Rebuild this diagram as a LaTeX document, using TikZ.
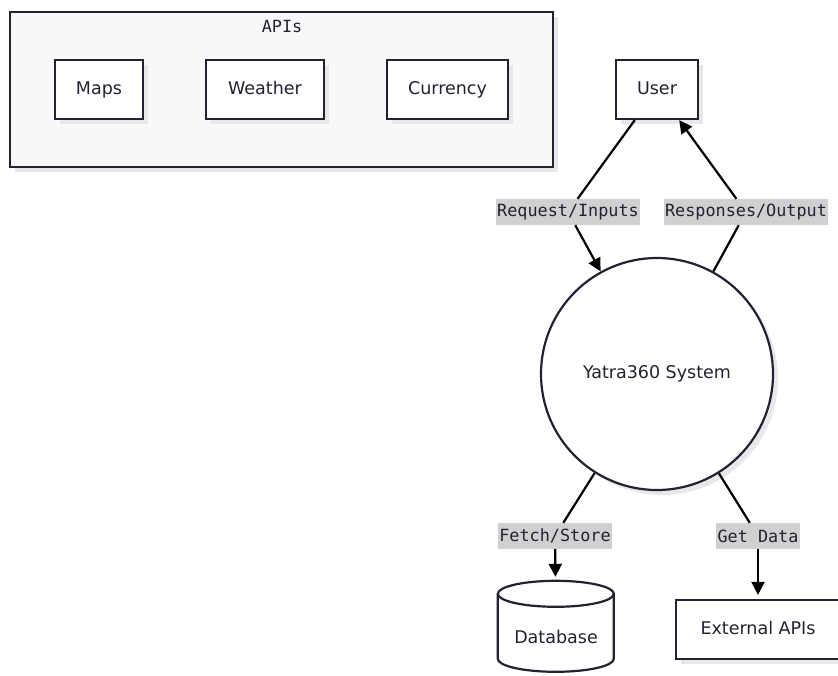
\documentclass[tikz,border=0pt]{standalone}
\usepackage{xcolor}
\usepackage{fontspec}
\setmainfont{DejaVu Sans}
\newfontfamily\labelfont{DejaVu Sans Mono}
\usepackage{tikz}
\usetikzlibrary{arrows.meta, positioning, shapes, shadows}

\definecolor{inkc}{RGB}{34,34,50}
\definecolor{groupfill}{RGB}{248,248,251}
\definecolor{labelfill}{RGB}{208,208,208}
\definecolor{shadowc}{RGB}{232,232,234}

\begin{document}
\begin{tikzpicture}[x=1pt, y=-1pt,
  shade box/.style={drop shadow={shadow xshift=5pt, shadow yshift=-5pt, fill=shadowc, opacity=1}},
  box/.style={draw=inkc, line width=2.2pt, fill=white, inner sep=0pt, minimum height=59pt,
    text=inkc, font=\fontsize{17.5}{20}\selectfont, text height=12.5pt, text depth=3.5pt, shade box},
  edgelabel/.style={fill=labelfill, inner sep=1.5pt, minimum height=26pt, text=inkc,
    font=\labelfont\fontsize{16.8}{20}\selectfont},
  flow/.style={line width=2.2pt, black},
  tip/.style={-{Triangle[length=13pt, width=13pt]}}]
\useasboundingbox (0,0) rectangle (838,675);

% API group
\node[draw=inkc, line width=2.2pt, fill=groupfill, minimum width=543pt, minimum height=155pt,
  shade box] (apis) at (281.5,89.5) {};
\node[text=inkc, font=\labelfont\fontsize{16.8}{20}\selectfont] (apistitle) at (282,26) {APIs};
\node[box, minimum width=88pt] (maps) at (99,89.5) {Maps};
\node[box, minimum width=118pt] (weather) at (265,89.5) {Weather};
\node[box, minimum width=121pt] (currency) at (447.5,89.5) {Currency};

% main flow
\node[box, minimum width=82pt] (user) at (657,89.5) {User};
\node[box, circle, minimum size=232pt] (sys) at (657,374) {Yatra360 System};
\node[box, minimum width=164pt] (ext) at (758,629.5) {External APIs};
\node[inner sep=0pt, minimum width=116pt, minimum height=91pt] (db) at (556,626.5) {};

% cylinder for the database
\draw[draw=inkc, line width=2.2pt, fill=white]
  (db.north west) ++(0,13) -- ++(0,65) arc[start angle=180, end angle=360, x radius=58, y radius=-13]
  -- ++(0,-65) arc[start angle=0, end angle=180, x radius=58, y radius=-13] -- cycle;
\draw[draw=inkc, line width=2.2pt] (db.north west) ++(0,13) arc[start angle=180, end angle=360, x radius=58, y radius=-13];
\node[text=inkc, font=\fontsize{17.5}{20}\selectfont] (dbtext) at (556,637) {Database};

% edge labels
\node[edgelabel] (lreq) at (568,212) {Request/Inputs};
\node[edgelabel] (lres) at (746,212) {Responses/Output};
\node[edgelabel] (lfetch) at (555,536) {Fetch/Store};
\node[edgelabel] (lget) at (758,536) {Get Data};

\draw[flow] (user) -- (lreq);
\draw[flow, tip] (lreq) -- (sys);
\draw[flow] (sys) -- (lres);
\draw[flow, tip] (lres) -- (user);
\draw[flow] (sys) -- (lfetch);
\draw[flow, tip, shorten >=4pt] (lfetch) -- (db);
\draw[flow] (sys) -- (lget);
\draw[flow, tip, shorten >=4pt] (lget) -- (ext);
\end{tikzpicture}
\end{document}
